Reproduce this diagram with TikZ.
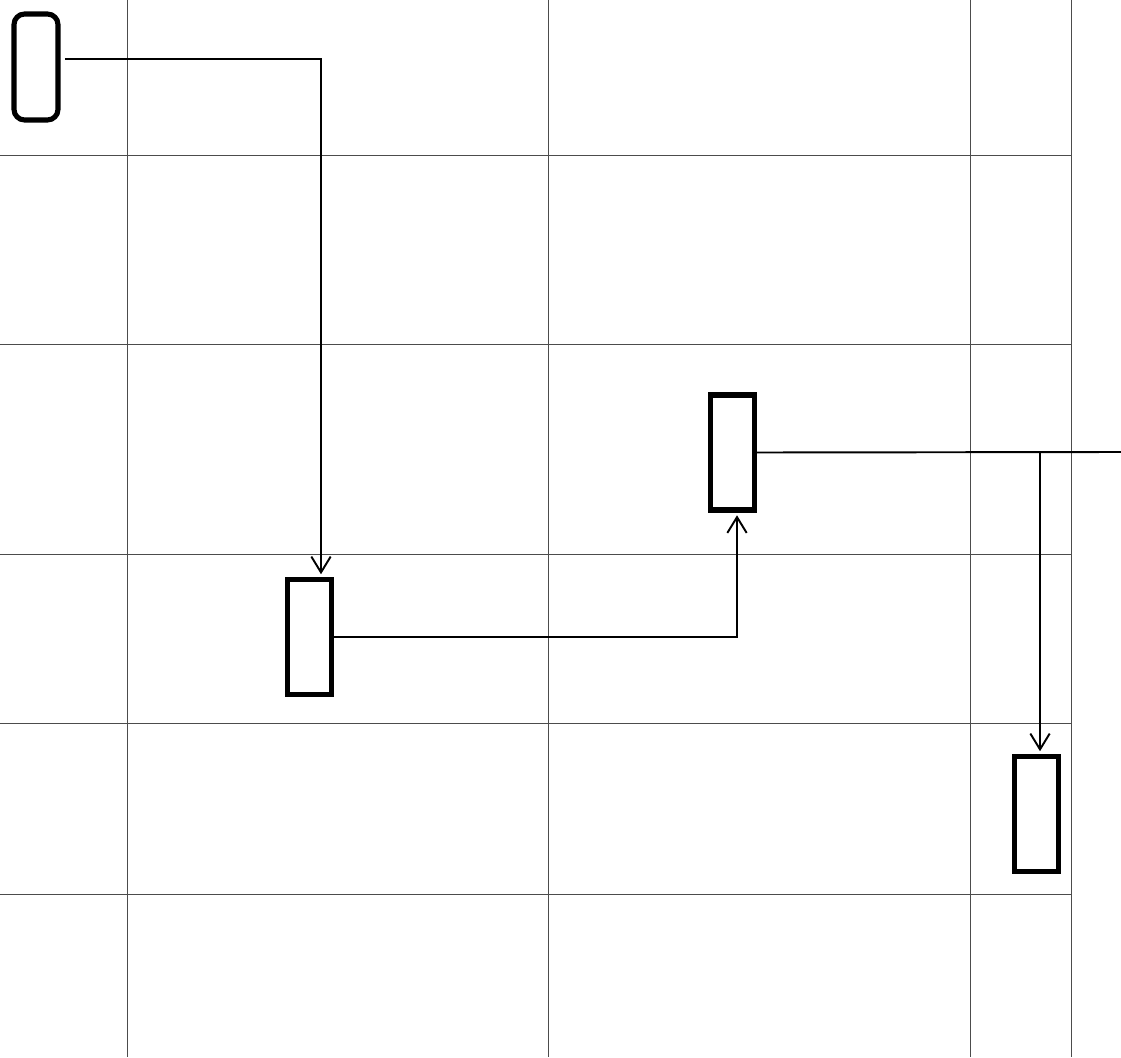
\documentclass[tikz,border=0pt]{standalone}
\usetikzlibrary{arrows.meta}
\tikzset{%
  gridline/.style={draw=black!70, line width=0.5pt},
  blockbox/.style={draw, line width=2.9pt, minimum width=0.88cm, minimum height=2.3cm,
                   inner sep=0pt, outer sep=1pt},
  flow/.style={draw, line width=1.1pt, -{Straight Barb[length=9pt,width=11pt,line width=1.1pt]},
               shorten >=2pt},
  wire/.style={draw, line width=1.1pt},
}

\begin{document}
\begin{tikzpicture}[x=0.02cm, y=-0.02cm]

    % page frame
    \useasboundingbox (0,0) rectangle (1121,1057);

    % table grid
    \foreach \gx in {127,548,970,1071}
      \draw[gridline] (\gx,0) -- (\gx,1057);
    \foreach \gy in {155,344,554,723,894}
      \draw[gridline] (0,\gy) -- (1071,\gy);

    % blocks
    \node[blockbox, rounded corners=6pt, minimum width=0.88cm, minimum height=2.12cm] (start) at (36,67) {};
    \node[blockbox] (stepA) at (309.5,637) {};
    \node[blockbox] (stepB) at (732.5,452.5) {};
    \node[blockbox] (stepC) at (1036.5,814) {};

    % branch points
    \coordinate (split) at (1040,452);
    \coordinate (exit) at (1121,452);

    % connectors
    \draw[flow] ([shift={(5,-8)}]start.east) -| ([shift={(11.5,0)}]stepA.north);
    \draw[flow] (stepA.east) -| ([shift={(4.5,0)}]stepB.south);
    \draw[wire] (stepB.east) -- (exit);
    \draw[flow] (split) -- (split |- stepC.north);

\end{tikzpicture}
\end{document}
